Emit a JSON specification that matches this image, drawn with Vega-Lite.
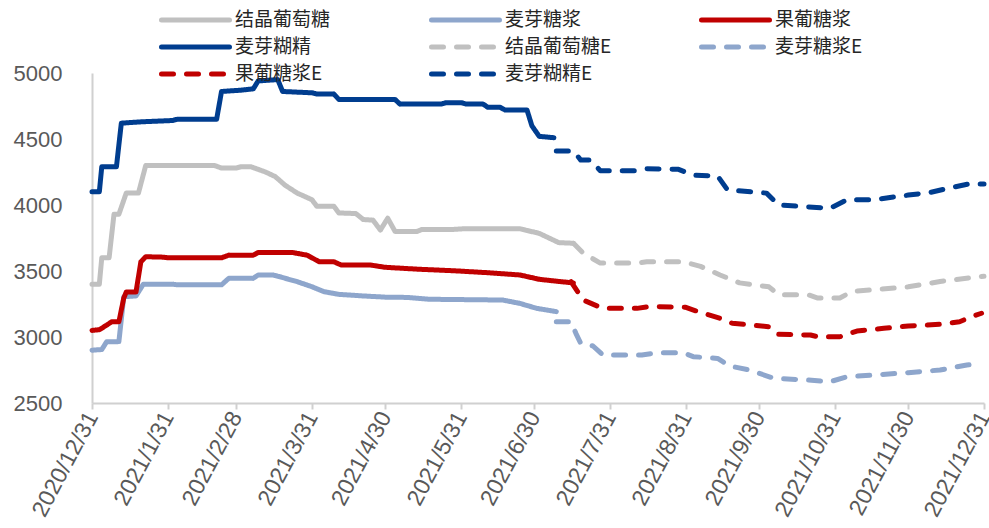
{
  "$schema": "https://vega.github.io/schema/vega-lite/v6.json",
  "width": 892,
  "height": 330,
  "autosize": {"type": "none"},
  "padding": {"left": 92, "top": 73, "right": 5, "bottom": 125},
  "background": "white",
  "config": {"view": {"stroke": null}},
  "data": {"values": [
    {"s":"麦芽糊精","d":"2020-12-31","v":4100},{"s":"麦芽糊精","d":"2021-01-03","v":4100},{"s":"麦芽糊精","d":"2021-01-04","v":4290},{"s":"麦芽糊精","d":"2021-01-10","v":4290},{"s":"麦芽糊精","d":"2021-01-12","v":4620},{"s":"麦芽糊精","d":"2021-01-20","v":4630},{"s":"麦芽糊精","d":"2021-02-02","v":4640},{"s":"麦芽糊精","d":"2021-02-04","v":4650},{"s":"麦芽糊精","d":"2021-02-20","v":4650},{"s":"麦芽糊精","d":"2021-02-22","v":4860},{"s":"麦芽糊精","d":"2021-03-02","v":4870},{"s":"麦芽糊精","d":"2021-03-07","v":4880},{"s":"麦芽糊精","d":"2021-03-09","v":4940},{"s":"麦芽糊精","d":"2021-03-17","v":4950},{"s":"麦芽糊精","d":"2021-03-19","v":4860},{"s":"麦芽糊精","d":"2021-03-31","v":4850},{"s":"麦芽糊精","d":"2021-04-02","v":4840},{"s":"麦芽糊精","d":"2021-04-09","v":4840},{"s":"麦芽糊精","d":"2021-04-11","v":4800},{"s":"麦芽糊精","d":"2021-05-04","v":4800},{"s":"麦芽糊精","d":"2021-05-06","v":4765},{"s":"麦芽糊精","d":"2021-05-23","v":4765},{"s":"麦芽糊精","d":"2021-05-25","v":4775},{"s":"麦芽糊精","d":"2021-05-31","v":4775},{"s":"麦芽糊精","d":"2021-06-02","v":4765},{"s":"麦芽糊精","d":"2021-06-09","v":4765},{"s":"麦芽糊精","d":"2021-06-11","v":4740},{"s":"麦芽糊精","d":"2021-06-16","v":4740},{"s":"麦芽糊精","d":"2021-06-18","v":4720},{"s":"麦芽糊精","d":"2021-06-27","v":4720},{"s":"麦芽糊精","d":"2021-06-29","v":4600},{"s":"麦芽糊精","d":"2021-07-02","v":4520},{"s":"麦芽糊精","d":"2021-07-08","v":4510},

    {"s":"麦芽糊精E","d":"2021-07-09","v":4410},{"s":"麦芽糊精E","d":"2021-07-16","v":4410},{"s":"麦芽糊精E","d":"2021-07-19","v":4340},{"s":"麦芽糊精E","d":"2021-07-23","v":4340},{"s":"麦芽糊精E","d":"2021-07-27","v":4260},{"s":"麦芽糊精E","d":"2021-08-11","v":4260},{"s":"麦芽糊精E","d":"2021-08-15","v":4275},{"s":"麦芽糊精E","d":"2021-08-28","v":4270},{"s":"麦芽糊精E","d":"2021-09-03","v":4225},{"s":"麦芽糊精E","d":"2021-09-13","v":4220},{"s":"麦芽糊精E","d":"2021-09-17","v":4115},{"s":"麦芽糊精E","d":"2021-10-03","v":4090},{"s":"麦芽糊精E","d":"2021-10-08","v":4000},{"s":"麦芽糊精E","d":"2021-10-29","v":3975},{"s":"麦芽糊精E","d":"2021-11-05","v":4040},{"s":"麦芽糊精E","d":"2021-11-16","v":4040},{"s":"麦芽糊精E","d":"2021-11-30","v":4075},{"s":"麦芽糊精E","d":"2021-12-09","v":4095},{"s":"麦芽糊精E","d":"2021-12-16","v":4125},{"s":"麦芽糊精E","d":"2021-12-25","v":4160},{"s":"麦芽糊精E","d":"2021-12-31","v":4160},

    {"s":"结晶葡萄糖","d":"2020-12-31","v":3400},{"s":"结晶葡萄糖","d":"2021-01-03","v":3400},{"s":"结晶葡萄糖","d":"2021-01-04","v":3600},{"s":"结晶葡萄糖","d":"2021-01-07","v":3600},{"s":"结晶葡萄糖","d":"2021-01-09","v":3930},{"s":"结晶葡萄糖","d":"2021-01-11","v":3930},{"s":"结晶葡萄糖","d":"2021-01-14","v":4090},{"s":"结晶葡萄糖","d":"2021-01-19","v":4090},{"s":"结晶葡萄糖","d":"2021-01-22","v":4300},{"s":"结晶葡萄糖","d":"2021-02-19","v":4300},{"s":"结晶葡萄糖","d":"2021-02-22","v":4280},{"s":"结晶葡萄糖","d":"2021-02-28","v":4280},{"s":"结晶葡萄糖","d":"2021-03-02","v":4290},{"s":"结晶葡萄糖","d":"2021-03-06","v":4290},{"s":"结晶葡萄糖","d":"2021-03-12","v":4250},{"s":"结晶葡萄糖","d":"2021-03-16","v":4215},{"s":"结晶葡萄糖","d":"2021-03-20","v":4150},{"s":"结晶葡萄糖","d":"2021-03-25","v":4090},{"s":"结晶葡萄糖","d":"2021-03-31","v":4040},{"s":"结晶葡萄糖","d":"2021-04-02","v":3990},{"s":"结晶葡萄糖","d":"2021-04-09","v":3990},{"s":"结晶葡萄糖","d":"2021-04-11","v":3940},{"s":"结晶葡萄糖","d":"2021-04-18","v":3935},{"s":"结晶葡萄糖","d":"2021-04-21","v":3890},{"s":"结晶葡萄糖","d":"2021-04-25","v":3885},{"s":"结晶葡萄糖","d":"2021-04-28","v":3810},{"s":"结晶葡萄糖","d":"2021-05-01","v":3900},{"s":"结晶葡萄糖","d":"2021-05-04","v":3800},{"s":"结晶葡萄糖","d":"2021-05-13","v":3800},{"s":"结晶葡萄糖","d":"2021-05-15","v":3815},{"s":"结晶葡萄糖","d":"2021-05-28","v":3815},{"s":"结晶葡萄糖","d":"2021-06-01","v":3820},{"s":"结晶葡萄糖","d":"2021-06-24","v":3820},{"s":"结晶葡萄糖","d":"2021-07-02","v":3785},{"s":"结晶葡萄糖","d":"2021-07-10","v":3715},{"s":"结晶葡萄糖","d":"2021-07-16","v":3710},

    {"s":"结晶葡萄糖E","d":"2021-07-16","v":3710},{"s":"结晶葡萄糖E","d":"2021-07-20","v":3635},{"s":"结晶葡萄糖E","d":"2021-07-27","v":3560},{"s":"结晶葡萄糖E","d":"2021-08-11","v":3560},{"s":"结晶葡萄糖E","d":"2021-08-15","v":3570},{"s":"结晶葡萄糖E","d":"2021-08-30","v":3570},{"s":"结晶葡萄糖E","d":"2021-09-06","v":3535},{"s":"结晶葡萄糖E","d":"2021-09-14","v":3470},{"s":"结晶葡萄糖E","d":"2021-09-22","v":3410},{"s":"结晶葡萄糖E","d":"2021-10-04","v":3380},{"s":"结晶葡萄糖E","d":"2021-10-08","v":3320},{"s":"结晶葡萄糖E","d":"2021-10-20","v":3320},{"s":"结晶葡萄糖E","d":"2021-10-24","v":3295},{"s":"结晶葡萄糖E","d":"2021-11-02","v":3295},{"s":"结晶葡萄糖E","d":"2021-11-07","v":3345},{"s":"结晶葡萄糖E","d":"2021-11-30","v":3380},{"s":"结晶葡萄糖E","d":"2021-12-13","v":3420},{"s":"结晶葡萄糖E","d":"2021-12-28","v":3455},{"s":"结晶葡萄糖E","d":"2021-12-31","v":3460},

    {"s":"麦芽糖浆","d":"2020-12-31","v":2900},{"s":"麦芽糖浆","d":"2021-01-04","v":2905},{"s":"麦芽糖浆","d":"2021-01-06","v":2964},{"s":"麦芽糖浆","d":"2021-01-11","v":2965},{"s":"麦芽糖浆","d":"2021-01-13","v":3305},{"s":"麦芽糖浆","d":"2021-01-18","v":3311},{"s":"麦芽糖浆","d":"2021-01-21","v":3400},{"s":"麦芽糖浆","d":"2021-02-02","v":3400},{"s":"麦芽糖浆","d":"2021-02-04","v":3395},{"s":"麦芽糖浆","d":"2021-02-22","v":3395},{"s":"麦芽糖浆","d":"2021-02-25","v":3445},{"s":"麦芽糖浆","d":"2021-03-07","v":3445},{"s":"麦芽糖浆","d":"2021-03-09","v":3470},{"s":"麦芽糖浆","d":"2021-03-15","v":3470},{"s":"麦芽糖浆","d":"2021-03-20","v":3445},{"s":"麦芽糖浆","d":"2021-03-25","v":3419},{"s":"麦芽糖浆","d":"2021-03-31","v":3381},{"s":"麦芽糖浆","d":"2021-04-05","v":3343},{"s":"麦芽糖浆","d":"2021-04-11","v":3323},{"s":"麦芽糖浆","d":"2021-04-21","v":3311},{"s":"麦芽糖浆","d":"2021-05-01","v":3301},{"s":"麦芽糖浆","d":"2021-05-09","v":3300},{"s":"麦芽糖浆","d":"2021-05-18","v":3286},{"s":"麦芽糖浆","d":"2021-06-17","v":3280},{"s":"麦芽糖浆","d":"2021-06-24","v":3255},{"s":"麦芽糖浆","d":"2021-07-01","v":3217},{"s":"麦芽糖浆","d":"2021-07-09","v":3192},

    {"s":"麦芽糖浆E","d":"2021-07-09","v":3116},{"s":"麦芽糖浆E","d":"2021-07-15","v":3116},{"s":"麦芽糖浆E","d":"2021-07-17","v":3028},{"s":"麦芽糖浆E","d":"2021-07-19","v":2952},{"s":"麦芽糖浆E","d":"2021-07-24","v":2932},{"s":"麦芽糖浆E","d":"2021-07-28","v":2864},{"s":"麦芽糖浆E","d":"2021-08-13","v":2864},{"s":"麦芽糖浆E","d":"2021-08-20","v":2881},{"s":"麦芽糖浆E","d":"2021-08-30","v":2881},{"s":"麦芽糖浆E","d":"2021-09-03","v":2851},{"s":"麦芽糖浆E","d":"2021-09-13","v":2838},{"s":"麦芽糖浆E","d":"2021-09-18","v":2780},{"s":"麦芽糖浆E","d":"2021-09-26","v":2750},{"s":"麦芽糖浆E","d":"2021-10-06","v":2687},{"s":"麦芽糖浆E","d":"2021-10-20","v":2674},{"s":"麦芽糖浆E","d":"2021-10-29","v":2661},{"s":"麦芽糖浆E","d":"2021-11-05","v":2699},{"s":"麦芽糖浆E","d":"2021-11-16","v":2712},{"s":"麦芽糖浆E","d":"2021-11-30","v":2730},{"s":"麦芽糖浆E","d":"2021-12-13","v":2750},{"s":"麦芽糖浆E","d":"2021-12-24","v":2788},{"s":"麦芽糖浆E","d":"2021-12-29","v":2795},

    {"s":"果葡糖浆","d":"2020-12-31","v":3050},{"s":"果葡糖浆","d":"2021-01-03","v":3055},{"s":"果葡糖浆","d":"2021-01-06","v":3090},{"s":"果葡糖浆","d":"2021-01-08","v":3115},{"s":"果葡糖浆","d":"2021-01-11","v":3115},{"s":"果葡糖浆","d":"2021-01-13","v":3295},{"s":"果葡糖浆","d":"2021-01-14","v":3340},{"s":"果葡糖浆","d":"2021-01-18","v":3340},{"s":"果葡糖浆","d":"2021-01-20","v":3570},{"s":"果葡糖浆","d":"2021-01-22","v":3608},{"s":"果葡糖浆","d":"2021-01-29","v":3605},{"s":"果葡糖浆","d":"2021-01-31","v":3600},{"s":"果葡糖浆","d":"2021-02-22","v":3600},{"s":"果葡糖浆","d":"2021-02-25","v":3620},{"s":"果葡糖浆","d":"2021-03-07","v":3620},{"s":"果葡糖浆","d":"2021-03-09","v":3640},{"s":"果葡糖浆","d":"2021-03-23","v":3640},{"s":"果葡糖浆","d":"2021-03-29","v":3620},{"s":"果葡糖浆","d":"2021-04-03","v":3570},{"s":"果葡糖浆","d":"2021-04-09","v":3570},{"s":"果葡糖浆","d":"2021-04-12","v":3545},{"s":"果葡糖浆","d":"2021-04-24","v":3545},{"s":"果葡糖浆","d":"2021-04-30","v":3528},{"s":"果葡糖浆","d":"2021-05-14","v":3513},{"s":"果葡糖浆","d":"2021-05-28","v":3502},{"s":"果葡糖浆","d":"2021-06-11","v":3487},{"s":"果葡糖浆","d":"2021-06-24","v":3470},{"s":"果葡糖浆","d":"2021-07-02","v":3437},{"s":"果葡糖浆","d":"2021-07-11","v":3419},{"s":"果葡糖浆","d":"2021-07-16","v":3410},

    {"s":"果葡糖浆E","d":"2021-07-15","v":3420},{"s":"果葡糖浆E","d":"2021-07-20","v":3280},{"s":"果葡糖浆E","d":"2021-07-28","v":3217},{"s":"果葡糖浆E","d":"2021-08-11","v":3217},{"s":"果葡糖浆E","d":"2021-08-16","v":3230},{"s":"果葡糖浆E","d":"2021-08-31","v":3225},{"s":"果葡糖浆E","d":"2021-09-05","v":3192},{"s":"果葡糖浆E","d":"2021-09-14","v":3142},{"s":"果葡糖浆E","d":"2021-09-19","v":3104},{"s":"果葡糖浆E","d":"2021-10-04","v":3078},{"s":"果葡糖浆E","d":"2021-10-08","v":3020},{"s":"果葡糖浆E","d":"2021-10-21","v":3015},{"s":"果葡糖浆E","d":"2021-10-24","v":3002},{"s":"果葡糖浆E","d":"2021-11-02","v":3002},{"s":"果葡糖浆E","d":"2021-11-09","v":3045},{"s":"果葡糖浆E","d":"2021-11-20","v":3066},{"s":"果葡糖浆E","d":"2021-11-30","v":3083},{"s":"果葡糖浆E","d":"2021-12-13","v":3096},{"s":"果葡糖浆E","d":"2021-12-21","v":3116},{"s":"果葡糖浆E","d":"2021-12-26","v":3154},{"s":"果葡糖浆E","d":"2021-12-30","v":3180}
  ]},
  "mark": {"type": "line", "strokeWidth": 5, "strokeCap": "round", "strokeJoin": "round"},
  "encoding": {
    "x": {
      "field": "d", "type": "temporal",
      "scale": {"type": "utc", "domain": [{"year": 2020, "month": 12, "date": 31, "utc": true}, {"year": 2021, "month": 12, "date": 31, "utc": true}]},
      "axis": {
        "title": null,
        "grid": false,
        "values": [
          {"year": 2020, "month": 12, "date": 31, "utc": true},
          {"year": 2021, "month": 1, "date": 31, "utc": true},
          {"year": 2021, "month": 2, "date": 28, "utc": true},
          {"year": 2021, "month": 3, "date": 31, "utc": true},
          {"year": 2021, "month": 4, "date": 30, "utc": true},
          {"year": 2021, "month": 5, "date": 31, "utc": true},
          {"year": 2021, "month": 6, "date": 30, "utc": true},
          {"year": 2021, "month": 7, "date": 31, "utc": true},
          {"year": 2021, "month": 8, "date": 31, "utc": true},
          {"year": 2021, "month": 9, "date": 30, "utc": true},
          {"year": 2021, "month": 10, "date": 31, "utc": true},
          {"year": 2021, "month": 11, "date": 30, "utc": true},
          {"year": 2021, "month": 12, "date": 31, "utc": true}
        ],
        "labelExpr": "utcFormat(datum.value, '%Y/%-m/%-d')",
        "labelAngle": -62,
        "labelAlign": "right",
        "labelBaseline": "middle",
        "labelFont": "Liberation Sans",
        "labelFontSize": 23,
        "labelColor": "#595959",
        "labelPadding": 4,
        "labelOverlap": false,
        "labelBound": false,
        "labelFlush": false,
        "domainColor": "#D0D0D0",
        "domainWidth": 2,
        "tickColor": "#D0D0D0",
        "tickWidth": 2,
        "tickSize": 6
      }
    },
    "y": {
      "field": "v", "type": "quantitative",
      "scale": {"domain": [2500, 5000], "zero": false, "nice": false},
      "axis": {
        "title": null,
        "grid": false,
        "values": [2500, 3000, 3500, 4000, 4500, 5000],
        "format": "d",
        "ticks": false,
        "labelFont": "Liberation Sans",
        "labelFontSize": 22,
        "labelColor": "#595959",
        "labelPadding": 30,
        "domainColor": "#D0D0D0",
        "domainWidth": 2
      }
    },
    "color": {
      "field": "s", "type": "nominal",
      "scale": {
        "domain": ["结晶葡萄糖", "麦芽糖浆", "果葡糖浆", "麦芽糊精", "结晶葡萄糖E", "麦芽糖浆E", "果葡糖浆E", "麦芽糊精E"],
        "range": ["#C0C0C0", "#8EA6CC", "#C00000", "#003D8F", "#C0C0C0", "#8EA6CC", "#C00000", "#003D8F"]
      },
      "legend": {
        "title": null,
        "orient": "none",
        "legendX": 67,
        "legendY": -66,
        "columns": 3,
        "direction": "horizontal",
        "gridAlign": "all",
        "columnPadding": 87,
        "rowPadding": 1,
        "clipHeight": 26,
        "symbolType": "stroke",
        "symbolSize": 100,
        "symbolStrokeWidth": 5,
        "labelFont": "Noto Sans CJK SC",
        "labelFontSize": 19,
        "labelColor": "#262626",
        "labelOffset": 3,
        "labelLimit": 300,
        "encode": {"symbols": {"update": {"strokeCap": {"value": "round"}, "size": {"value": 4624}}}}
      }
    },
    "strokeDash": {
      "field": "s", "type": "nominal",
      "scale": {
        "domain": ["结晶葡萄糖", "麦芽糖浆", "果葡糖浆", "麦芽糊精", "结晶葡萄糖E", "麦芽糖浆E", "果葡糖浆E", "麦芽糊精E"],
        "range": [[1, 0], [1, 0], [1, 0], [1, 0], [12, 13], [12, 13], [12, 13], [12, 13]]
      },
      "legend": null
    },
    "order": {"field": "d", "type": "temporal"}
  }
}
